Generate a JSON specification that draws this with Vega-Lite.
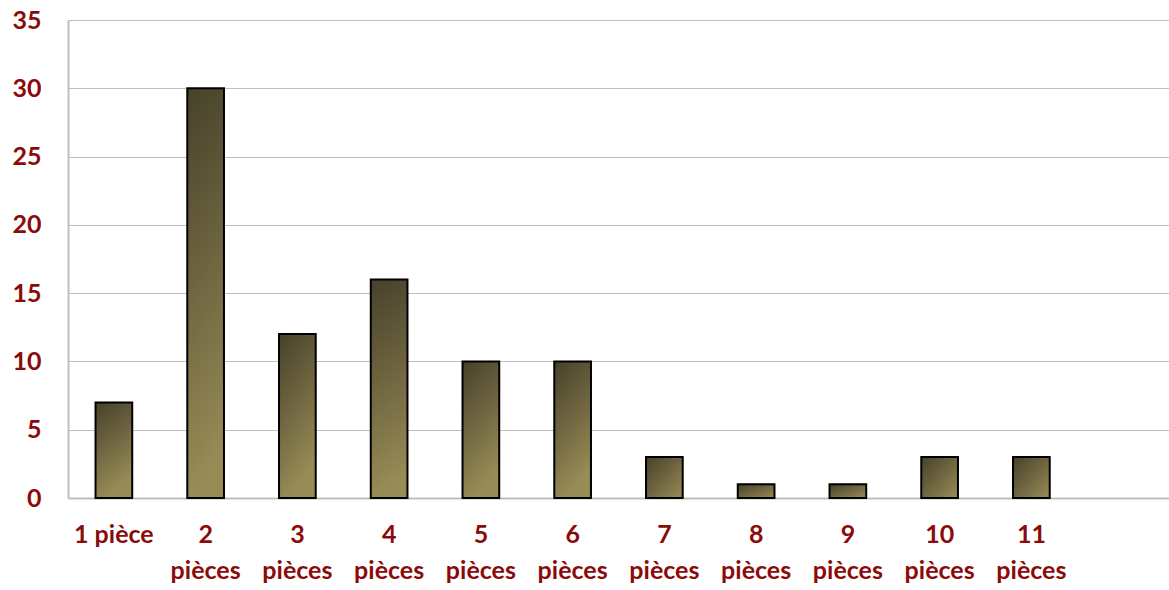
{
  "$schema": "https://vega.github.io/schema/vega-lite/v6.json",
  "autosize": "none",
  "padding": {"left": 68, "top": 20, "right": 0, "bottom": 92},
  "width": 1101,
  "height": 478,
  "background": "white",
  "config": {"view": {"stroke": null}},
  "data": {"values": [
    {"cat": "1 pièce", "value": 7},
    {"cat": "2|pièces", "value": 30},
    {"cat": "3|pièces", "value": 12},
    {"cat": "4|pièces", "value": 16},
    {"cat": "5|pièces", "value": 10},
    {"cat": "6|pièces", "value": 10},
    {"cat": "7|pièces", "value": 3},
    {"cat": "8|pièces", "value": 1},
    {"cat": "9|pièces", "value": 1},
    {"cat": "10|pièces", "value": 3},
    {"cat": "11|pièces", "value": 3}
  ]},
  "mark": {
    "type": "bar",
    "stroke": "black",
    "strokeWidth": 2
  },
  "encoding": {
    "x": {
      "field": "cat",
      "type": "nominal",
      "sort": null,
      "scale": {
        "domain": ["1 pièce", "2|pièces", "3|pièces", "4|pièces", "5|pièces", "6|pièces", "7|pièces", "8|pièces", "9|pièces", "10|pièces", "11|pièces", "_"],
        "paddingInner": 0.6,
        "paddingOuter": 0.3
      },
      "axis": {
        "title": null,
        "labelAngle": 0,
        "labelExpr": "datum.value == '_' ? '' : split(datum.value, '|')",
        "labelFont": "Lato",
        "labelFontWeight": "bold",
        "labelFontSize": 25,
        "labelColor": "#8b0a0a",
        "labelLineHeight": 36,
        "labelBaseline": "top",
        "labelPadding": 24,
        "ticks": false,
        "domainColor": "#bfbfbf",
        "domainWidth": 2,
        "labelOverlap": false
      }
    },
    "y": {
      "field": "value",
      "type": "quantitative",
      "scale": {"domain": [0, 35], "nice": false},
      "axis": {
        "title": null,
        "values": [0, 5, 10, 15, 20, 25, 30, 35],
        "labelFont": "Lato",
        "labelFontWeight": "bold",
        "labelFontSize": 25,
        "labelColor": "#8b0a0a",
        "labelPadding": 27,
        "ticks": false,
        "domainColor": "#bfbfbf",
        "domainWidth": 2,
        "gridColor": "#bfbfbf",
        "gridWidth": 1.2
      }
    },
    "color": {
      "condition": [
        {
          "test": "datum.value <= 3",
          "value": {
            "gradient": "linear", "x1": 0, "y1": 0, "x2": 1, "y2": 1,
            "stops": [
              {"offset": 0, "color": "#46412a"},
              {"offset": 0.5, "color": "#6f6540"},
              {"offset": 1, "color": "#988c56"}
            ]
          }
        },
        {
          "test": "datum.value <= 12",
          "value": {
            "gradient": "linear", "x1": 0, "y1": 0, "x2": 0.3, "y2": 1,
            "stops": [
              {"offset": 0, "color": "#46412a"},
              {"offset": 0.5, "color": "#6f6540"},
              {"offset": 1, "color": "#988c56"}
            ]
          }
        }
      ],
      "value": {
        "gradient": "linear", "x1": 0, "y1": 0, "x2": 0.12, "y2": 1,
        "stops": [
          {"offset": 0, "color": "#46412a"},
          {"offset": 0.5, "color": "#6f6540"},
          {"offset": 1, "color": "#988c56"}
        ]
      }
    }
  }
}
